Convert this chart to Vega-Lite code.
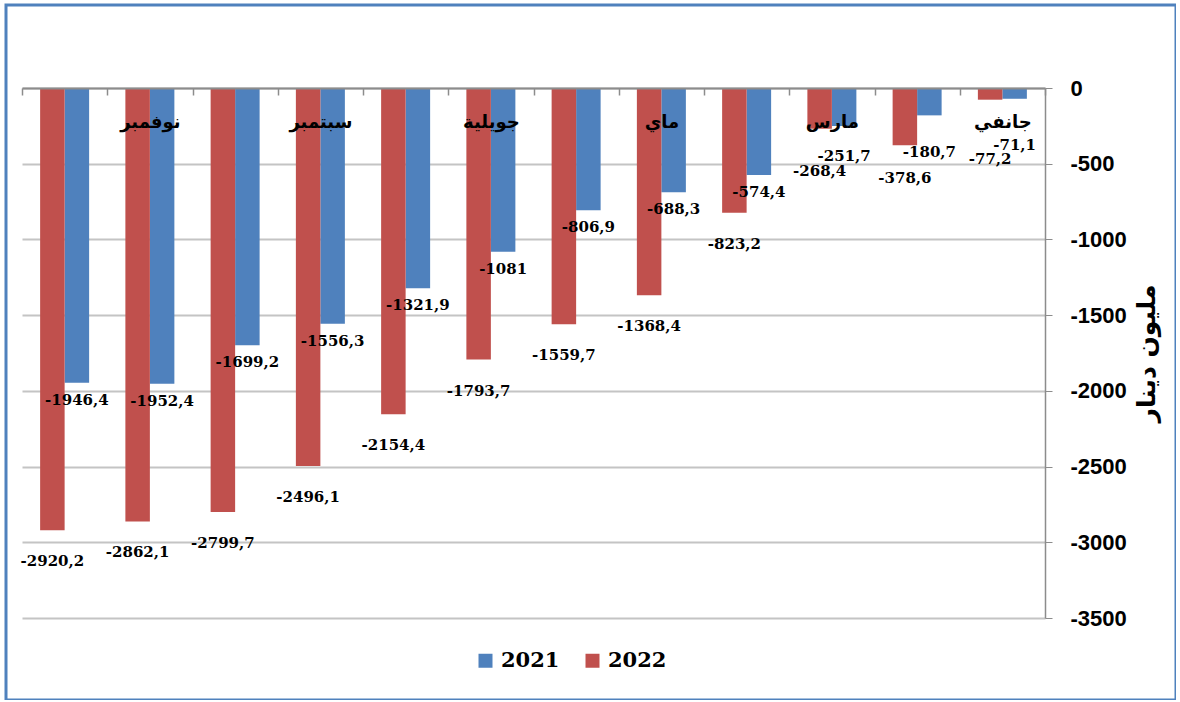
{
  "$schema": "https://vega.github.io/schema/vega-lite/v6.json",
  "width": 1170,
  "height": 695,
  "autosize": {"type": "none"},
  "padding": {"left": 6, "top": 5, "right": 0, "bottom": 0},
  "background": "white",
  "config": {
    "locale": {"number": {"decimal": ",", "thousands": "", "grouping": [3], "currency": ["", ""], "minus": "-"}},
    "view": {"stroke": "#4f81bd", "strokeWidth": 3, "fill": "white"}
  },
  "data": {
    "values": [
      {"month": "جانفي", "year": "2021", "value": -71.1},
      {"month": "جانفي", "year": "2022", "value": -77.2},
      {"month": "فيفري", "year": "2021", "value": -180.7},
      {"month": "فيفري", "year": "2022", "value": -378.6},
      {"month": "مارس", "year": "2021", "value": -251.7},
      {"month": "مارس", "year": "2022", "value": -268.4},
      {"month": "أفريل", "year": "2021", "value": -574.4},
      {"month": "أفريل", "year": "2022", "value": -823.2},
      {"month": "ماي", "year": "2021", "value": -688.3},
      {"month": "ماي", "year": "2022", "value": -1368.4},
      {"month": "جوان", "year": "2021", "value": -806.9},
      {"month": "جوان", "year": "2022", "value": -1559.7},
      {"month": "جويلية", "year": "2021", "value": -1081},
      {"month": "جويلية", "year": "2022", "value": -1793.7},
      {"month": "أوت", "year": "2021", "value": -1321.9},
      {"month": "أوت", "year": "2022", "value": -2154.4},
      {"month": "سبتمبر", "year": "2021", "value": -1556.3},
      {"month": "سبتمبر", "year": "2022", "value": -2496.1},
      {"month": "أكتوبر", "year": "2021", "value": -1699.2},
      {"month": "أكتوبر", "year": "2022", "value": -2799.7},
      {"month": "نوفمبر", "year": "2021", "value": -1952.4},
      {"month": "نوفمبر", "year": "2022", "value": -2862.1},
      {"month": "ديسمبر", "year": "2021", "value": -1946.4},
      {"month": "ديسمبر", "year": "2022", "value": -2920.2}
    ]
  },
  "resolve": {"scale": {"y": "independent"}, "axis": {"y": "independent"}},
  "encoding": {
    "x": {
      "field": "month",
      "type": "nominal",
      "sort": ["ديسمبر", "نوفمبر", "أكتوبر", "سبتمبر", "أوت", "جويلية", "جوان", "ماي", "أفريل", "مارس", "فيفري", "جانفي"],
      "scale": {"range": [16, 1039], "paddingInner": 0, "paddingOuter": 0},
      "axis": {
        "orient": "top",
        "offset": -83,
        "zindex": 1,
        "title": null,
        "grid": false,
        "domainColor": "#8c8c8c",
        "domainWidth": 2,
        "tickBand": "extent",
        "tickSize": -7,
        "tickColor": "#8c8c8c",
        "tickWidth": 1.5,
        "labelAngle": 0,
        "labelExpr": "indexof(['جانفي','مارس','ماي','جويلية','سبتمبر','نوفمبر'], datum.value) >= 0 ? datum.value : ''",
        "labelFont": "DejaVu Sans",
        "labelFontSize": 18,
        "labelFontWeight": "bold",
        "labelColor": "black",
        "labelBaseline": "middle",
        "labelPadding": -27
      }
    },
    "xOffset": {
      "field": "year",
      "type": "nominal",
      "sort": ["2022", "2021"],
      "scale": {"domain": ["2022", "2021"], "paddingInner": 0, "paddingOuter": 0.74}
    },
    "color": {
      "field": "year",
      "type": "nominal",
      "scale": {"domain": ["2021", "2022"], "range": ["#4f81bd", "#c0504d"]},
      "legend": {
        "orient": "none",
        "legendX": 469,
        "legendY": 645,
        "direction": "horizontal",
        "title": null,
        "symbolType": "square",
        "symbolSize": 196,
        "symbolStrokeWidth": 0,
        "labelFont": "DejaVu Serif",
        "labelFontSize": 21,
        "labelFontWeight": "bold",
        "labelColor": "black",
        "labelOffset": 5,
        "columnPadding": 22
      }
    }
  },
  "layer": [
    {
      "transform": [{"filter": "datum.year == '2021'"}],
      "mark": {"type": "bar"},
      "encoding": {
        "y": {
          "field": "value",
          "type": "quantitative",
          "scale": {"domain": [-3500, 0], "range": [613, 83], "nice": false, "zero": false},
          "axis": {
            "orient": "left",
            "values": [-3500, -3000, -2500, -2000, -1500, -1000, -500, 0],
            "grid": true,
            "gridColor": "#c4c4c4",
            "gridWidth": 2,
            "labels": false,
            "ticks": false,
            "domain": false,
            "title": null
          }
        }
      }
    },
    {
      "transform": [{"filter": "datum.year == '2022'"}],
      "mark": {"type": "bar"},
      "encoding": {
        "y": {
          "field": "value",
          "type": "quantitative",
          "scale": {"domain": [-3500, 0], "range": [613, 83], "nice": false, "zero": false},
          "axis": {
            "orient": "right",
            "offset": -131,
            "values": [-3500, -3000, -2500, -2000, -1500, -1000, -500, 0],
            "format": "d",
            "grid": false,
            "labelFont": "Liberation Sans",
            "labelFontSize": 22,
            "labelFontWeight": "bold",
            "labelColor": "black",
            "labelPadding": 18,
            "domainColor": "#8c8c8c",
            "domainWidth": 1.5,
            "tickColor": "#8c8c8c",
            "tickSize": 7,
            "title": "مليون دينار",
            "titleAngle": 270,
            "titleFont": "DejaVu Sans",
            "titleFontSize": 25,
            "titleFontWeight": "bold",
            "titleColor": "black",
            "titlePadding": 33
          }
        }
      }
    },
    {
      "transform": [{"filter": "datum.year == '2021'"}],
      "mark": {"type": "text", "dy": 17, "baseline": "middle", "align": "center", "font": "DejaVu Serif", "fontSize": 15, "fontWeight": "bold", "color": "black"},
      "encoding": {
        "y": {
          "field": "value",
          "type": "quantitative",
          "scale": {"domain": [-3500, -400, 0], "range": [613, 143.57, 118], "nice": false, "zero": false},
          "axis": null
        },
        "color": {"value": "black"},
        "text": {"field": "value", "type": "quantitative", "format": ".1~f"}
      }
    },
    {
      "transform": [{"filter": "datum.year == '2022'"}],
      "mark": {"type": "text", "dy": 31, "baseline": "middle", "align": "center", "font": "DejaVu Serif", "fontSize": 15, "fontWeight": "bold", "color": "black"},
      "encoding": {
        "y": {
          "field": "value",
          "type": "quantitative",
          "scale": {"domain": [-3500, -400, 0], "range": [613, 143.57, 118], "nice": false, "zero": false},
          "axis": null
        },
        "color": {"value": "black"},
        "text": {"field": "value", "type": "quantitative", "format": ".1~f"}
      }
    }
  ]
}
